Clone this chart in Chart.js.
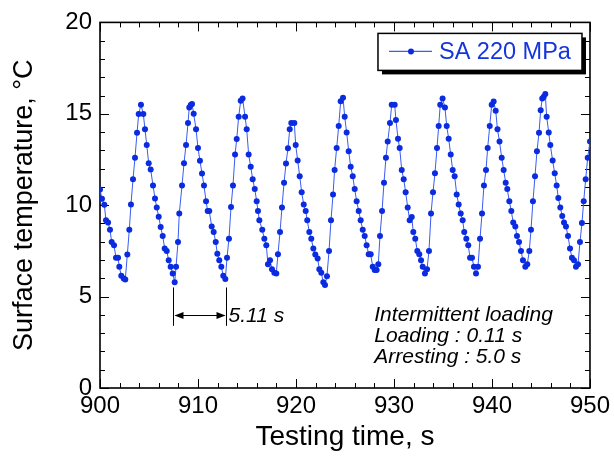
<!DOCTYPE html>
<html>
<head>
<meta charset="utf-8">
<script src="https://cdn.jsdelivr.net/npm/chart.js@4.4.1/dist/chart.umd.min.js"></script>
<style>
  html, body { margin: 0; padding: 0; background: #fff; }
</style>
</head>
<body>
<canvas id="chartTemp" width="614" height="460"></canvas>
<script>
// data

const times = [
  900.00, 900.20, 900.44, 900.61, 900.82, 901.02, 901.19, 901.43, 901.63, 901.84,
  901.97, 902.17, 902.42, 902.58, 902.79, 902.99, 903.16, 903.37, 903.57, 903.78,
  903.95, 904.18, 904.42, 904.59, 904.77, 904.97, 905.17, 905.41, 905.61, 905.79,
  905.99, 906.19, 906.40, 906.60, 906.81, 907.01, 907.21, 907.42, 907.62, 907.76,
  907.96, 908.09, 908.37, 908.57, 908.78, 908.98, 909.11, 909.26, 909.39, 909.56,
  909.80, 910.00, 910.20, 910.41, 910.61, 910.82, 910.99, 911.15, 911.40, 911.60,
  911.81, 911.97, 912.17, 912.38, 912.58, 912.79, 912.96, 913.16, 913.37, 913.57,
  913.78, 913.95, 914.15, 914.36, 914.55, 914.80, 914.97, 915.17, 915.38, 915.58,
  915.79, 915.99, 916.12, 916.26, 916.56, 916.77, 916.97, 917.14, 917.35, 917.55,
  917.79, 917.99, 918.16, 918.37, 918.57, 918.78, 918.98, 919.18, 919.36, 919.52,
  919.83, 919.97, 920.17, 920.38, 920.58, 920.79, 920.99, 921.15, 921.36, 921.56,
  921.77, 921.97, 922.21, 922.38, 922.58, 922.79, 922.96, 923.16, 923.37, 923.57,
  923.78, 923.94, 924.15, 924.36, 924.56, 924.80, 924.97, 925.17, 925.38, 925.58,
  925.79, 925.99, 926.19, 926.40, 926.60, 926.81, 927.01, 927.21, 927.42, 927.62,
  927.83, 928.03, 928.23, 928.40, 928.57, 928.78, 928.98, 929.18, 929.36, 929.59,
  929.77, 930.07, 930.20, 930.41, 930.58, 930.79, 930.99, 931.19, 931.40, 931.60,
  931.81, 931.97, 932.17, 932.38, 932.58, 932.76, 932.93, 933.16, 933.37, 933.57,
  933.78, 933.98, 934.18, 934.39, 934.56, 934.72, 934.96, 935.20, 935.38, 935.58,
  935.79, 935.99, 936.19, 936.40, 936.60, 936.81, 937.01, 937.17, 937.38, 937.58,
  937.76, 937.96, 938.16, 938.37, 938.57, 938.78, 938.98, 939.18, 939.39, 939.56,
  939.77, 939.97, 940.17, 940.38, 940.56, 940.77, 940.99, 941.19, 941.40, 941.56,
  941.77, 941.97, 942.17, 942.38, 942.55, 942.76, 942.96, 943.16, 943.40, 943.60,
  943.81, 943.98, 944.18, 944.39, 944.59, 944.80, 944.97, 945.13, 945.28, 945.44,
  945.58, 945.79, 945.95, 946.19, 946.40, 946.60, 946.77, 946.97, 947.17, 947.35,
  947.55, 947.76, 947.96, 948.16, 948.37, 948.57, 948.78, 948.98, 949.18, 949.36,
  949.56, 949.77, 950.00
];

const temps = [
  10.86, 10.35, 10.03, 9.17, 9.05, 8.66, 7.99, 7.81, 7.12, 7.12,
  6.63, 6.14, 5.99, 5.94, 7.30, 8.66, 10.04, 11.42, 12.60, 13.97,
  14.99, 15.49, 14.99, 14.15, 13.30, 12.29, 11.95, 11.08, 10.37, 9.88,
  9.37, 8.81, 8.32, 7.63, 7.50, 6.99, 6.63, 6.27, 5.78, 6.63,
  7.99, 9.54, 11.08, 12.29, 13.30, 14.50, 15.35, 15.48, 15.53, 15.00,
  14.15, 13.13, 12.43, 11.73, 11.08, 10.22, 9.68, 9.68, 8.83, 8.53,
  7.99, 7.34, 6.99, 6.63, 6.14, 5.96, 7.12, 8.17, 9.90, 11.08,
  12.77, 13.62, 14.84, 15.71, 15.84, 14.84, 14.15, 12.77, 12.10, 11.42,
  10.88, 10.22, 9.68, 9.17, 8.66, 8.17, 7.81, 6.77, 6.99, 6.50,
  6.30, 6.27, 7.32, 8.53, 9.88, 11.23, 12.28, 13.11, 14.15, 14.50,
  14.50, 13.30, 12.44, 11.59, 10.71, 10.04, 9.68, 9.17, 8.53, 8.17,
  7.63, 7.30, 7.08, 6.50, 6.30, 5.78, 5.63, 6.12, 7.50, 9.17,
  10.59, 11.93, 13.13, 14.33, 15.69, 15.88, 14.84, 13.98, 12.95, 12.10,
  11.59, 10.88, 10.22, 9.68, 9.17, 8.66, 8.32, 7.81, 7.32, 7.32,
  6.63, 6.45, 6.45, 6.77, 8.32, 9.68, 11.23, 12.59, 13.48, 14.50,
  15.49, 15.49, 14.66, 13.64, 13.13, 11.93, 11.42, 10.71, 9.88, 9.17,
  9.35, 8.53, 8.17, 7.50, 7.32, 6.99, 6.63, 6.27, 6.49, 7.50,
  9.54, 10.71, 11.75, 13.13, 14.33, 15.49, 15.84, 15.35, 14.33, 13.64,
  12.77, 11.93, 11.59, 10.59, 10.04, 9.54, 9.17, 8.53, 8.17, 7.81,
  7.12, 7.12, 6.63, 6.27, 6.63, 8.17, 9.54, 11.08, 11.93, 13.13,
  14.33, 15.49, 15.67, 15.17, 14.15, 13.48, 12.60, 11.93, 11.23, 10.88,
  10.22, 9.68, 9.05, 8.83, 8.32, 7.99, 7.50, 6.99, 6.63, 6.77,
  7.50, 8.66, 10.22, 11.59, 12.95, 13.97, 15.20, 15.84, 15.93, 16.08,
  14.84, 13.98, 13.30, 12.44, 11.75, 11.08, 10.39, 9.88, 9.41, 9.05,
  8.83, 8.32, 7.63, 7.12, 6.99, 6.63, 6.77, 7.99, 9.02, 10.22,
  11.42, 12.60, 13.48
];

const seriesLabel = 'SA 220 MPa';
const xTicks = [900, 910, 920, 930, 940, 950];
const yTicks = [0, 5, 10, 15, 20];
const xMinorStep = 2;
const yMinorStep = 1;

// period marker and notes
const periodStart = 907.45;
const periodEnd = 912.86;
const periodLabel = '5.11 s';
const notes = ['Intermittent loading', 'Loading : 0.11 s', 'Arresting : 5.0 s'];

const fontFam = '"Liberation Sans", Arial, Helvetica, sans-serif';
const dotColor = '#0a2be0';
const lineColor = '#3a5cf0';

// frame with inward ticks on all four sides
const frameTicks = {
  id: 'frameTicks',
  beforeDatasetsDraw(chart) {
    const {ctx, chartArea: a, scales: {x, y}} = chart;
    ctx.save();
    ctx.strokeStyle = '#000';
    ctx.lineWidth = 1;
    ctx.beginPath();
    for (let v = x.min; v <= x.max + 0.001; v += xMinorStep) {
      const px = Math.round(x.getPixelForValue(v)) + 0.5;
      const len = xTicks.includes(v) ? 9 : 5;
      ctx.moveTo(px, a.bottom); ctx.lineTo(px, a.bottom - len);
      ctx.moveTo(px, a.top); ctx.lineTo(px, a.top + len);
    }
    for (let v = y.min; v <= y.max + 0.001; v += yMinorStep) {
      const py = Math.round(y.getPixelForValue(v)) + 0.5;
      const len = yTicks.includes(v) ? 9 : 5;
      ctx.moveTo(a.left, py); ctx.lineTo(a.left + len, py);
      ctx.moveTo(a.right, py); ctx.lineTo(a.right - len, py);
    }
    ctx.stroke();
    ctx.lineWidth = 1.6;
    ctx.strokeRect(a.left, a.top, a.right - a.left, a.bottom - a.top);
    ctx.restore();
  }
};

// legend box with drop shadow, period arrow and the loading notes
const extras = {
  id: 'extras',
  afterDraw(chart) {
    const {ctx, chartArea: a, scales: {x, y}} = chart;
    ctx.save();

    // legend
    const bx = a.right - 212, by = a.top + 11, bw = 204, bh = 37;
    ctx.fillStyle = '#000';
    ctx.fillRect(bx + 4, by + 4, bw, bh);
    ctx.fillStyle = '#fff';
    ctx.fillRect(bx, by, bw, bh);
    ctx.strokeStyle = '#000';
    ctx.lineWidth = 1.5;
    ctx.strokeRect(bx, by, bw, bh);
    const ly = by + 18;
    ctx.strokeStyle = lineColor;
    ctx.lineWidth = 1.2;
    ctx.beginPath();
    ctx.moveTo(bx + 11, ly); ctx.lineTo(bx + 54, ly);
    ctx.stroke();
    ctx.fillStyle = dotColor;
    ctx.beginPath();
    ctx.arc(bx + 33, ly, 3, 0, Math.PI * 2);
    ctx.fill();
    ctx.font = '23.5px ' + fontFam;
    ctx.fillStyle = '#1535dc';
    ctx.textBaseline = 'alphabetic';
    ctx.fillText(seriesLabel, bx + 61, by + 26);

    // period arrow
    const x1 = Math.round(x.getPixelForValue(periodStart)) + 0.5;
    const x2 = Math.round(x.getPixelForValue(periodEnd)) + 0.5;
    const yTop = y.getPixelForValue(5.5);
    const yBot = y.getPixelForValue(3.4);
    const yArr = Math.round(y.getPixelForValue(4.0)) + 0.5;
    ctx.strokeStyle = '#000';
    ctx.fillStyle = '#000';
    ctx.lineWidth = 1;
    ctx.beginPath();
    ctx.moveTo(x1, yTop); ctx.lineTo(x1, yBot);
    ctx.moveTo(x2, yTop); ctx.lineTo(x2, yBot);
    ctx.moveTo(x1 + 2, yArr); ctx.lineTo(x2 - 2, yArr);
    ctx.stroke();
    ctx.beginPath();
    ctx.moveTo(x1 + 1, yArr); ctx.lineTo(x1 + 10, yArr - 3.5); ctx.lineTo(x1 + 10, yArr + 3.5);
    ctx.closePath();
    ctx.moveTo(x2 - 1, yArr); ctx.lineTo(x2 - 10, yArr - 3.5); ctx.lineTo(x2 - 10, yArr + 3.5);
    ctx.closePath();
    ctx.fill();

    ctx.font = 'italic 21px ' + fontFam;
    ctx.fillText(periodLabel, x2 + 2, yArr + 6);

    // notes
    const nx = x.getPixelForValue(927.99);
    let ny = y.getPixelForValue(3.64);
    notes.forEach(t => {
      ctx.fillText(t, nx, ny);
      ny += 21;
    });
    ctx.restore();
  }
};

const ctx_temp = document.getElementById('chartTemp');

new Chart(ctx_temp, {
  type: 'scatter',
  data: {
    datasets: [{
      label: seriesLabel,
      data: times.map((t, i) => ({ x: t, y: temps[i] })),
      showLine: true,
      borderColor: lineColor,
      borderWidth: 1,
      pointRadius: 3,
      pointBackgroundColor: dotColor,
      pointBorderWidth: 0,
      tension: 0
    }]
  },
  options: {
    responsive: false,
    animation: false,
    layout: {
      padding: { top: 21, right: 24, left: 0, bottom: 0 }
    },
    scales: {
      x: {
        type: 'linear',
        min: 900,
        max: 950,
        afterBuildTicks: s => { s.ticks = xTicks.map(v => ({ value: v })); },
        afterFit: s => { s.height = 72; },
        grid: { display: false, drawTicks: false },
        border: { display: false },
        ticks: {
          color: '#000',
          padding: 4,
          maxRotation: 0,
          font: { family: fontFam, size: 24 }
        },
        title: {
          display: true,
          text: 'Testing time, s',
          color: '#000',
          font: { family: fontFam, size: 28 },
          padding: { top: 0, bottom: 6 }
        }
      },
      y: {
        type: 'linear',
        min: 0,
        max: 20,
        afterBuildTicks: s => { s.ticks = yTicks.map(v => ({ value: v })); },
        afterFit: s => { s.width = 100; },
        grid: { display: false, drawTicks: false },
        border: { display: false },
        ticks: {
          color: '#000',
          padding: 8,
          font: { family: fontFam, size: 24 }
        },
        title: {
          display: true,
          text: 'Surface temperature, \u00B0C',
          color: '#000',
          font: { family: fontFam, size: 27 },
          padding: { top: 8, bottom: 0 }
        }
      }
    },
    plugins: {
      legend: { display: false },
      tooltip: { enabled: false }
    }
  },
  plugins: [frameTicks, extras]
});
</script>
</body>
</html>
